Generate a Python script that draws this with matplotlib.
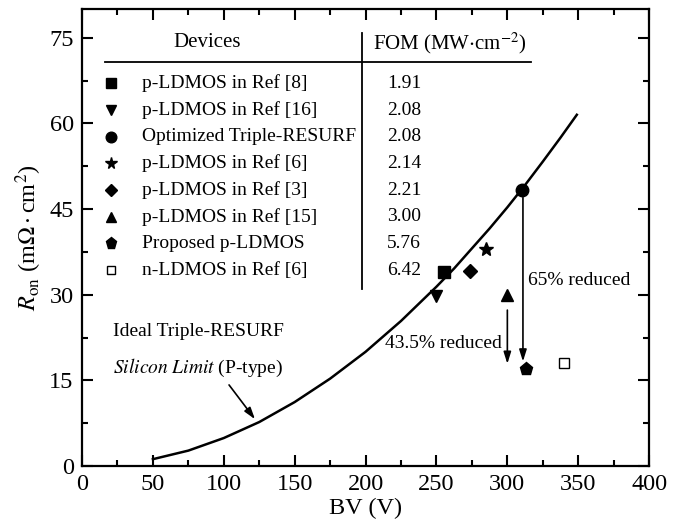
import matplotlib
matplotlib.use("Agg")
import matplotlib.pyplot as plt
import numpy as np

plt.rcParams['font.family'] = ['Liberation Serif', 'DejaVu Serif']
plt.rcParams['mathtext.fontset'] = 'stix'

# ideal triple-RESURF silicon limit
limit_bv = [50, 75, 100, 125, 150, 175, 200, 225, 250, 262.5, 275, 287.5, 300,
            312.5, 325, 337.5, 349]
limit_ron = [1.2, 2.7, 4.9, 7.7, 11.2, 15.3, 20.0, 25.4, 31.4, 34.6, 38.1, 41.6, 45.3,
             49.2, 53.3, 57.5, 61.5]

# devices
devices = ['p-LDMOS in Ref [8]', 'p-LDMOS in Ref [16]', 'Optimized Triple-RESURF',
           'p-LDMOS in Ref [6]', 'p-LDMOS in Ref [3]', 'p-LDMOS in Ref [15]',
           'Proposed p-LDMOS', 'n-LDMOS in Ref [6]']
fom = ['1.91', '2.08', '2.08', '2.14', '2.21', '3.00', '5.76', '6.42']
bv = [255, 250, 310, 285, 274, 300, 313, 340]
ron = [34, 29.8, 48.3, 38, 34.2, 30, 17, 18]
markers = ['s', 'v', 'o', '*', 'D', '^', 'p', 's']
msizes = [8, 9, 9, 10, 7.5, 9, 9.5, 7.5]
filled = [True, True, True, True, True, True, True, False]

fig = plt.figure(figsize=(6.95, 5.27), dpi=100)
ax = fig.add_axes([0.118, 0.1157, 0.816, 0.867])

ax.plot(limit_bv, limit_ron, color='black', lw=1.8, zorder=3)

for i in range(len(devices)):
    fc = 'black' if filled[i] else 'white'
    ax.plot(bv[i], ron[i], marker=markers[i], ms=msizes[i], mfc=fc, mec='black',
            mew=1.0, ls='none', zorder=4)
    # table row
    ry = 67.0 - 4.67 * i
    ax.plot(20.5, ry, marker=markers[i], ms=msizes[i] * 0.85, mfc=fc, mec='black',
            mew=1.0, ls='none', clip_on=False)
    ax.text(42, ry, devices[i], fontsize=14, va='center', ha='left')
    ax.text(215, ry, fom[i], fontsize=14, va='center', ha='left')

# table header
ax.text(88.5, 74.1, 'Devices', fontsize=15, ha='center', va='center')
ax.text(205, 74.1, r'FOM (MW$\cdot$cm$^{-2}$)', fontsize=15, ha='left', va='center')
ax.plot([16, 316.5], [70.8, 70.8], color='black', lw=1.3)
ax.plot([197.3, 197.3], [31.0, 75.9], color='black', lw=1.3)

# reduction arrows
akw = dict(arrowstyle='-|>,head_length=0.7,head_width=0.22', color='black', lw=1.2,
           shrinkA=0, shrinkB=0)
ax.annotate('', xy=(311, 18.3), xytext=(311, 47.0), arrowprops=akw)
ax.annotate('', xy=(300, 17.9), xytext=(300, 27.3), arrowprops=akw)
ax.text(314.5, 32.4, '65% reduced', fontsize=14, ha='left', va='center')
ax.text(296, 21.5, '43.5% reduced', fontsize=14, ha='right', va='center')

# silicon limit label
ax.text(22, 23.5, 'Ideal Triple-RESURF', fontsize=14, ha='left', va='center')
ax.text(22, 17.2, r'$\it{Silicon\ Limit}$ (P-type)', fontsize=14, ha='left', va='center')
ax.annotate('', xy=(122, 8.2), xytext=(103.7, 14.2), arrowprops=akw)

ax.set_xlim(0, 400)
ax.set_ylim(0, 80)
ax.set_xticks(np.arange(0, 401, 50))
ax.set_yticks(np.arange(0, 76, 15))
ax.set_xticks(np.arange(25, 400, 50), minor=True)
ax.set_yticks(np.arange(7.5, 80, 15), minor=True)
ax.tick_params(which='both', direction='in', top=True, right=True, width=1.5,
               labelsize=17.5, pad=6)
ax.tick_params(which='major', length=8)
ax.tick_params(which='minor', length=4.5)
for s in ax.spines.values():
    s.set_linewidth(1.6)

ax.set_xlabel('BV (V)', fontsize=17.5, labelpad=2)
ax.set_ylabel(r'$R_{\rm on}$ (m$\Omega\cdot$cm$^2$)', fontsize=17.5, labelpad=4)

fig.savefig('out.png', dpi=100)
